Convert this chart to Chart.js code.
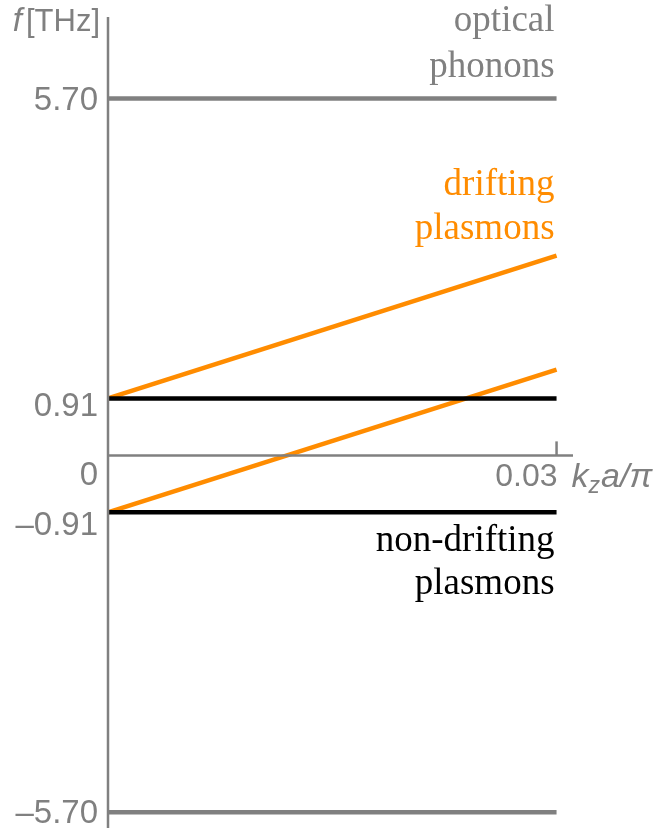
<!DOCTYPE html>
<html>
<head>
<meta charset="utf-8">
<script src="https://cdn.jsdelivr.net/npm/chart.js@4"></script>
<style>
  html, body { margin: 0; padding: 0; background: #fff; }
  #wrap { width: 659px; height: 828px; }
</style>
</head>
<body>
<div id="wrap"><canvas id="bandChart"></canvas></div>
<script>
// k_z a / pi (x) and frequency f [THz] (y)
const kzRange = [0, 0.03];
const phononUpper = [5.70, 5.70];
const phononLower = [-5.70, -5.70];
const plasmonUpper = [0.91, 0.91];
const plasmonLower = [-0.91, -0.91];
const driftUpper = [0.91, 3.19];
const driftLower = [-0.91, 1.37];
const yTickValues = [5.70, 0.91, 0, -0.91, -5.70];
const yTickLabels = ["5.70", "0.91", "0", "\u20130.91", "\u20135.70"];
const xTickValues = [0.03];
const xTickLabels = ["0.03"];

const GRAY = "#808080";
const ORANGE = "#ff8c00";
const SANS = "'Liberation Sans', Arial, sans-serif";
const SERIF = "'Liberation Serif', 'Times New Roman', serif";

function pts(ys) {
    return kzRange.map((x, i) => ({ x: x, y: ys[i] }));
}

function lineSet(ys, color, width) {
    return {
        data: pts(ys),
        borderColor: color,
        borderWidth: width,
        pointRadius: 0,
        fill: false,
        tension: 0
    };
}

// axes, ticks and text labels, placed with the chart's scales
const annotate = {
    id: "annotate",
    afterDraw(chart) {
        const ctx = chart.ctx;
        const xs = chart.scales.x, ys = chart.scales.y;
        const area = chart.chartArea;
        const x0 = xs.getPixelForValue(0);
        const y0 = ys.getPixelForValue(0);
        ctx.save();

        // y axis
        ctx.strokeStyle = GRAY;
        ctx.lineWidth = 2.5;
        ctx.beginPath();
        ctx.moveTo(x0, area.top);
        ctx.lineTo(x0, area.bottom);
        ctx.stroke();

        // x axis at f = 0
        ctx.beginPath();
        ctx.moveTo(x0, y0);
        ctx.lineTo(area.right, y0);
        ctx.stroke();
        xTickValues.forEach(v => {
            const px = xs.getPixelForValue(v);
            ctx.beginPath();
            ctx.moveTo(px, y0);
            ctx.lineTo(px, y0 - 14);
            ctx.stroke();
        });

        // tick labels
        ctx.fillStyle = GRAY;
        ctx.font = "33px " + SANS;
        ctx.textAlign = "right";
        ctx.textBaseline = "middle";
        const yShift = [2, 9, 21, 14, 2];
        yTickValues.forEach((v, i) => {
            ctx.fillText(yTickLabels[i], x0 - 10, ys.getPixelForValue(v) + yShift[i]);
        });
        ctx.font = "32px " + SANS;
        xTickValues.forEach((v, i) => {
            ctx.fillText(xTickLabels[i], xs.getPixelForValue(v) + 1, y0 + 22);
        });

        // axis titles
        ctx.textAlign = "left";
        ctx.font = "italic 34px " + SANS;
        const ax = xs.getPixelForValue(0.03) + 15;
        ctx.fillText("k", ax, y0 + 22);
        let w = ctx.measureText("k").width;
        ctx.font = "italic 23px " + SANS;
        ctx.fillText("z", ax + w, y0 + 31);
        w += ctx.measureText("z").width;
        ctx.font = "italic 34px " + SANS;
        ctx.fillText("a/\u03c0", ax + w + 1, y0 + 22);

        ctx.textAlign = "right";
        ctx.font = "31px " + SANS;
        ctx.fillText("[THz]", x0 - 8, area.top + 5);
        const tw = ctx.measureText("[THz]").width;
        ctx.font = "italic 33px " + SANS;
        ctx.fillText("f", x0 - 12 - tw, area.top + 5);

        // band labels
        ctx.font = "37px " + SERIF;
        ctx.textAlign = "right";
        const rx = xs.getPixelForValue(0.03) - 2;
        ctx.fillStyle = GRAY;
        ctx.fillText("optical", rx, ys.getPixelForValue(5.70) - 77);
        ctx.fillText("phonons", rx, ys.getPixelForValue(5.70) - 31);
        ctx.fillStyle = ORANGE;
        ctx.fillText("drifting", rx, ys.getPixelForValue(3.19) - 70);
        ctx.fillText("plasmons", rx, ys.getPixelForValue(3.19) - 26);
        ctx.fillStyle = "#000";
        ctx.fillText("non-drifting", rx, ys.getPixelForValue(-0.91) + 29);
        ctx.fillText("plasmons", rx, ys.getPixelForValue(-0.91) + 72);

        ctx.restore();
    }
};

new Chart(document.getElementById("bandChart"), {
    type: "line",
    data: {
        datasets: [
            lineSet(phononUpper, GRAY, 4.5),
            lineSet(phononLower, GRAY, 4.5),
            lineSet(plasmonUpper, "#000", 4.5),
            lineSet(plasmonLower, "#000", 4.5),
            lineSet(driftUpper, ORANGE, 4.5),
            lineSet(driftLower, ORANGE, 4.5)
        ]
    },
    options: {
        responsive: true,
        maintainAspectRatio: false,
        animation: false,
        events: [],
        layout: { padding: { left: 108, right: 86, top: 17, bottom: 0 } },
        plugins: { legend: { display: false }, tooltip: { enabled: false } },
        scales: {
            x: { type: "linear", min: 0, max: 0.0311, display: false },
            y: { type: "linear", min: -5.95, max: 7.0, display: false }
        }
    },
    plugins: [annotate]
});
</script>
</body>
</html>
